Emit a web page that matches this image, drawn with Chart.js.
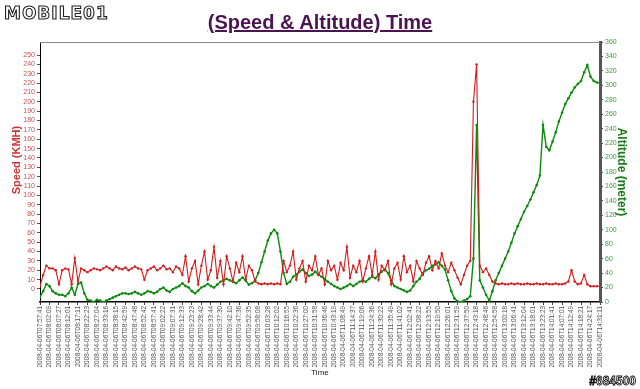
<!DOCTYPE html>
<html>
<head>
<meta charset="utf-8">
<script src="https://cdn.jsdelivr.net/npm/chart.js@4/dist/chart.umd.min.js"></script>
<style>
  body { margin: 0; background: #fff; }
  #wrap { position: relative; width: 640px; height: 389px; overflow: hidden; }
  #logo { position: absolute; left: 4px; top: 3px; font: bold 17px "DejaVu Sans", sans-serif; letter-spacing: 1px;
          color: #fff; -webkit-text-stroke: 1.1px #222; }
  #title { position: absolute; left: 0; width: 640px; top: 11px; text-align: center;
           font: bold 20px "Liberation Sans", Arial, sans-serif; color: #4b1450; text-decoration: underline; }
  #tag { position: absolute; right: 4px; bottom: 1px; font: bold 12px "Liberation Sans", Arial, sans-serif;
         color: #fff; -webkit-text-stroke: 0.8px #000; }
</style>
</head>
<body>
<div id="wrap">
  <canvas id="c" width="640" height="389"></canvas>
  <div id="logo">MOBILE01</div>
  <div id="title">(Speed &amp; Altitude) Time</div>
  <div id="tag">#684500</div>
</div>
<script>
// time tick labels (one every 3 samples)
const timeLabels = [
  '07:57:41','08:02:09','08:07:27','08:12:01','08:17:11','08:22:23','08:27:04','08:33:16','08:38:15','08:42:59',
  '08:47:48','08:52:42','08:57:41','09:02:22','09:07:31','09:12:33','09:23:23','09:28:42','09:33:44','09:37:30',
  '09:42:10','09:47:36','09:52:35','09:58:08','10:03:28','10:12:02','10:16:55','10:22:36','10:27:00','10:31:58',
  '10:36:46','10:43:19','11:08:49','11:14:37','11:19:06','11:24:36','11:30:22','11:35:49','11:41:02','12:02:41',
  '12:08:22','12:13:55','12:19:50','12:26:01','12:31:59','12:37:50','12:43:18','12:48:46','12:54:58','13:00:18',
  '13:06:41','13:12:04','13:18:01','13:23:23','14:01:41','14:07:01','14:12:49','14:18:21','14:24:17','14:31:11'
].map(t => '2008-04-06T' + t);

// speed in KMH
const speed = [
  3,15,25,22,22,20,5,20,22,21,
  5,33,8,22,20,18,20,22,21,20,
  22,24,22,20,24,22,21,23,20,22,
  24,22,21,10,20,22,24,20,22,25,
  21,22,18,24,22,15,35,8,22,30,
  5,25,40,10,20,45,12,30,5,35,
  22,8,28,18,35,10,25,20,8,6,
  5,6,5,6,5,6,5,30,18,25,
  40,10,22,30,8,25,20,35,15,22,
  5,30,20,25,10,28,20,45,12,25,
  18,30,8,22,35,15,40,10,25,20,
  30,5,22,28,10,35,18,25,8,30,
  22,15,28,35,20,30,22,38,25,18,
  28,20,12,5,15,25,30,200,240,25,
  18,22,15,8,6,5,6,5,5,6,
  5,6,5,5,6,5,5,6,5,5,
  6,5,5,6,5,5,6,8,20,8,
  5,6,15,5,3,3,3,3
];

// altitude in meter
const altitude = [
  7,15,25,22,15,12,10,10,8,12,
  20,10,25,27,12,3,2,0,3,2,
  0,2,4,6,8,10,12,12,11,12,
  14,12,10,12,15,14,12,14,18,20,
  16,14,18,20,22,26,22,20,15,12,
  16,20,22,25,22,20,24,28,30,32,
  30,28,26,30,34,30,24,26,30,40,
  55,70,85,95,100,95,70,40,25,28,
  35,38,42,45,40,36,38,42,38,35,
  32,28,25,22,20,18,20,22,25,22,
  25,28,30,28,32,35,33,38,42,45,
  40,30,22,20,18,16,14,16,22,28,
  32,40,44,46,50,52,55,50,45,30,
  15,5,1,0,2,4,8,60,245,30,
  20,10,2,15,30,40,50,60,70,82,
  95,105,115,125,133,142,152,162,175,245,
  215,210,222,235,250,262,274,282,290,297,
  302,306,318,328,312,306,304,303
];

const speedTicks = [];
for (let v = 0; v <= 250; v += 10) speedTicks.push(v);
const altTicks = [];
for (let v = 0; v <= 360; v += 20) altTicks.push(v);

const FONT = '"Liberation Sans", Arial, sans-serif';

// top frame line + left axis title
const framePlugin = {
  id: 'frame',
  afterDraw(chart) {
    const { ctx, chartArea } = chart;
    ctx.save();
    ctx.strokeStyle = '#8a8a8a';
    ctx.lineWidth = 1;
    ctx.beginPath();
    ctx.moveTo(chartArea.left, chartArea.top + 0.5);
    ctx.lineTo(chartArea.right, chartArea.top + 0.5);
    ctx.stroke();

    ctx.translate(17, 160);
    ctx.rotate(-Math.PI / 2);
    ctx.fillStyle = '#cc3333';
    ctx.font = 'bold 11px ' + FONT;
    ctx.textAlign = 'center';
    ctx.textBaseline = 'middle';
    ctx.fillText('Speed (KMH)', 0, 0);
    ctx.restore();
  }
};

new Chart(document.getElementById('c'), {
  type: 'line',
  data: {
    datasets: [
      {
        label: 'Speed',
        data: speed.map((v, i) => ({ x: i, y: v })),
        yAxisID: 'ySpeed',
        borderColor: '#d41c1c',
        backgroundColor: '#d41c1c',
        borderWidth: 1.1,
        pointRadius: 1.2,
        pointBorderWidth: 0,
        tension: 0,
        fill: false,
      },
      {
        label: 'Altitude',
        data: altitude.map((v, i) => ({ x: i, y: v })),
        yAxisID: 'yAlt',
        borderColor: '#0b8a0b',
        backgroundColor: '#0b8a0b',
        borderWidth: 1.4,
        pointRadius: 1.3,
        pointBorderWidth: 0,
        tension: 0,
        fill: false,
      },
    ],
  },
  options: {
    responsive: false,
    animation: false,
    devicePixelRatio: 1,
    layout: { padding: { top: 42, left: 0, right: 0, bottom: 0 } },
    plugins: { legend: { display: false }, tooltip: { enabled: false } },
    scales: {
      x: {
        type: 'linear',
        min: 0,
        max: speed.length - 1,
        afterBuildTicks: (axis) => { axis.ticks = timeLabels.map((_, k) => ({ value: k * 3 })); },
        afterFit: (axis) => { axis.height = 87; },
        ticks: {
          autoSkip: false,
          minRotation: 90,
          maxRotation: 90,
          padding: 1,
          color: '#555',
          font: { size: 6.4, family: FONT },
          callback: (v) => timeLabels[Math.round(v / 3)],
        },
        grid: { drawOnChartArea: false, tickLength: 3, color: '#444' },
        border: { color: '#000', width: 1.5 },
        title: { display: true, text: 'Time', color: '#222', font: { size: 8, family: FONT }, padding: { top: 0, bottom: 11 } },
      },
      ySpeed: {
        type: 'linear',
        position: 'left',
        min: -13.9,
        max: 263.9,
        afterBuildTicks: (axis) => { axis.ticks = speedTicks.map(v => ({ value: v })); },
        afterFit: (axis) => { axis.width = 40; },
        ticks: { autoSkip: false, color: '#c85050', font: { size: 7, family: FONT }, padding: 2 },
        grid: { drawOnChartArea: false, tickLength: 3, color: '#555' },
        border: { color: '#000', width: 1 },
      },
      yAlt: {
        type: 'linear',
        position: 'right',
        min: 0,
        max: 360,
        afterBuildTicks: (axis) => { axis.ticks = altTicks.map(v => ({ value: v })); },
        afterFit: (axis) => { axis.width = 40; },
        ticks: { autoSkip: false, color: '#3a9a3a', font: { size: 7, family: FONT }, padding: 2 },
        grid: { drawOnChartArea: false, tickLength: 3, color: '#555' },
        border: { color: '#555', width: 3 },
        title: { display: true, text: 'Altitude (meter)', color: '#1a7a1a', font: { size: 12, weight: 'bold', family: FONT }, padding: { top: 11, bottom: 0 } },
      },
    },
  },
  plugins: [framePlugin],
});
</script>
</body>
</html>
